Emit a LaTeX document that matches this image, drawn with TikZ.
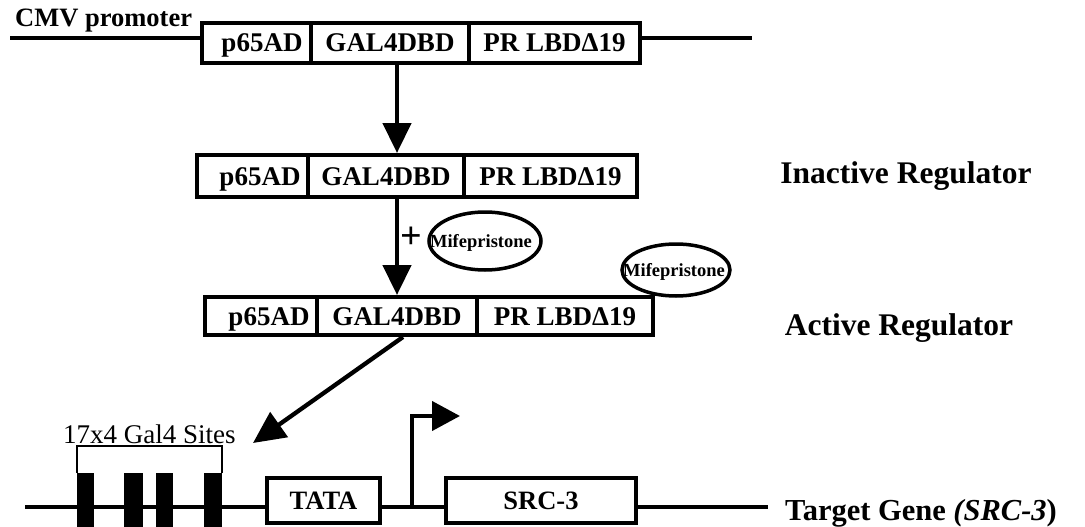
\documentclass[tikz,border=0pt]{standalone}
\usepackage{fontspec}
\setmainfont{Liberation Serif}
\usetikzlibrary{arrows.meta,shapes.geometric}
\begin{document}
\begin{tikzpicture}[x=1pt,y=-1pt,
  seg/.style={draw, line width=4pt, fill=white, inner sep=0pt, text height=18pt, text depth=0pt, font=\fontsize{27}{30}\selectfont\bfseries},
  dna/.style={line width=4.5pt},
  arr/.style={line width=4.5pt, -{Triangle[length=30pt,width=28pt]}},
  lig/.style={ellipse, draw, line width=3.5pt, inner sep=0pt},
  ligtext/.style={font=\fontsize{18.5}{20}\selectfont\bfseries},
  biglabel/.style={font=\fontsize{31.5}{34}\selectfont\bfseries, inner sep=0pt, anchor=base},
  bar/.style={fill=black, draw=none, inner sep=0pt, minimum height=54pt},
  bracket/.style={line width=1.5pt},
  gbox/.style={draw, line width=4pt, fill=white, inner sep=0pt, minimum height=45pt, text height=18pt, text depth=0pt, font=\fontsize{26.5}{29}\selectfont\bfseries}
]
\useasboundingbox (0,0) rectangle (1085,527);

% ---- top construct ----
\coordinate (tl) at (10,38);
\coordinate (tr) at (752,38);
\draw[dna] (tl) -- (tr);
\node[font=\fontsize{26.5}{29}\selectfont\bfseries, inner sep=0pt, anchor=base west] (cmv) at (15,27) {CMV promoter};
\node[seg, minimum width=109pt, minimum height=40pt] (t1) at (256.5,43) {\hspace*{11pt}p65AD};
\node[seg, minimum width=158pt, minimum height=40pt] (t2) at (390,43) {GAL4DBD};
\node[seg, minimum width=171pt, minimum height=40pt] (t3) at (554.5,43) {PR LBDΔ19};

% ---- inactive regulator ----
\node[seg, minimum width=111pt, minimum height=42pt] (i1) at (252.5,176) {\hspace*{15pt}p65AD};
\node[seg, minimum width=156pt, minimum height=42pt] (i2) at (386,176) {GAL4DBD};
\node[seg, minimum width=173pt, minimum height=42pt] (i3) at (550.5,176) {PR LBDΔ19};
\node[biglabel] (inl) at (906,183) {Inactive Regulator};

% ---- active regulator ----
\node[seg, minimum width=112pt, minimum height=38pt] (a1) at (261,316) {\hspace*{16pt}p65AD};
\node[seg, minimum width=160pt, minimum height=38pt] (a2) at (397,316) {GAL4DBD};
\node[seg, minimum width=176pt, minimum height=38pt] (a3) at (565,316) {PR LBDΔ19};
\node[biglabel] (acl) at (899,335) {Active Regulator};

% ---- arrows ----
\draw[arr] (t2.south -| a2.north) -- (i2.north -| a2.north);
\draw[arr] (i2.south -| a2.north) -- (a2.north);
\node[font=\fontsize{38}{40}\selectfont\bfseries, inner sep=0pt] (plus) at (411,238) {+};

% ---- mifepristone ----
\node[lig, minimum width=112pt, minimum height=58pt,
      label={[ligtext, xshift=-4pt, yshift=-2pt]center:Mifepristone}] (m1) at (485,241) {};
\node[lig, minimum width=108pt, minimum height=52pt,
      label={[ligtext, xshift=-2pt, yshift=-2pt]center:Mifepristone}] (m2) at (676,270) {};

% ---- target gene ----
\coordinate (bl) at (25,507);
\coordinate (br) at (768,507);
\draw[dna] (bl) -- (br);
\node[bar, minimum width=17pt] (g1) at (85.5,500) {};
\node[bar, minimum width=19pt] (g2) at (133.5,500) {};
\node[bar, minimum width=17pt] (g3) at (164.5,500) {};
\node[bar, minimum width=18pt] (g4) at (213,500) {};
\draw[bracket] (g1.north west) -- ++(0,-27) -| (g4.north east);
\node[font=\fontsize{27}{30}\selectfont, inner sep=0pt, anchor=base west] (sites) at (63,443) {17x4 Gal4 Sites};
\node[gbox, minimum width=113pt] (tata) at (323.5,500.5) {TATA};
\node[gbox, minimum width=190pt] (src) at (541,500.5) {SRC-3};
\coordinate (tss) at (412,507);
\coordinate (tssend) at (460,416);
\draw[line width=4.3pt, -{Triangle[length=28pt,width=29pt]}] (tss) |- (tssend);
\node[font=\fontsize{30.5}{33}\selectfont\bfseries, inner sep=0pt, anchor=base west] (tg) at (785,520) {Target Gene \textit{(SRC-3})};

% ---- binding arrow ----
\coordinate (bind) at (253,443);
\draw[line width=4.3pt, -{Triangle[length=32pt,width=30pt]}] ([xshift=6pt]a2.south) -- (bind);
\end{tikzpicture}
\end{document}
